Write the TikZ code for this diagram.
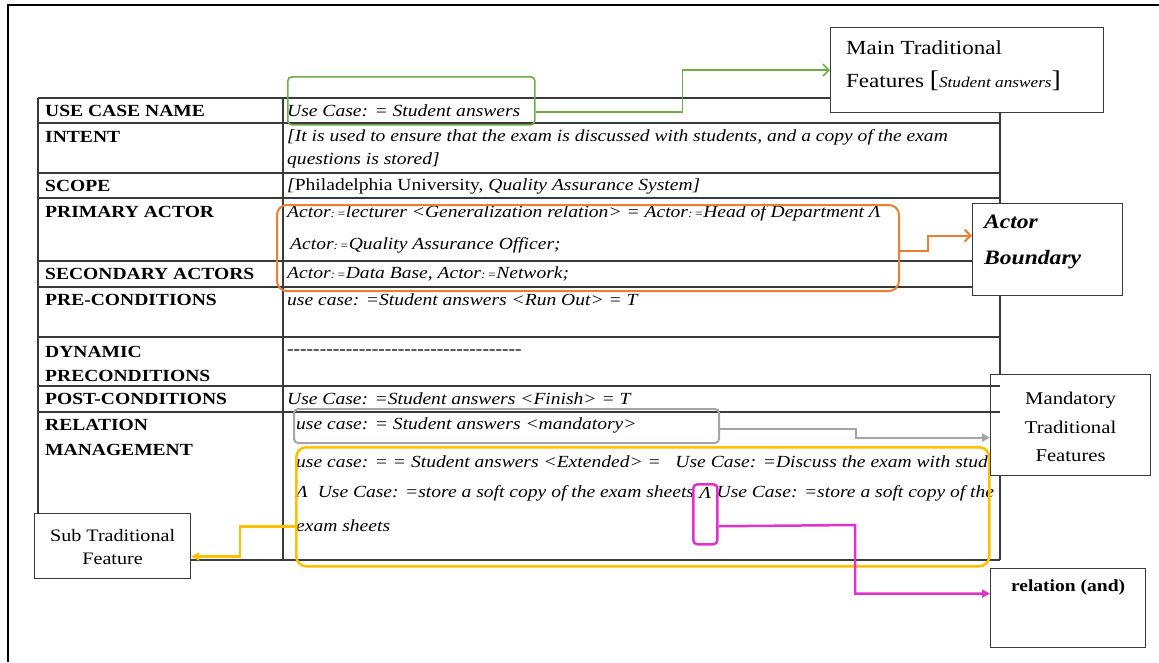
\documentclass[tikz,border=0pt]{standalone}
\usepackage{fontspec}
\setmainfont{Liberation Serif}[FakeStretch=1.15]
\usetikzlibrary{arrows.meta}

\definecolor{tline}{HTML}{3A3A3A}
\definecolor{hgreen}{HTML}{70AD47}
\definecolor{horange}{HTML}{ED7D31}
\definecolor{hgray}{HTML}{A5A5A5}
\definecolor{hyellow}{HTML}{FFC000}
\definecolor{hmagenta}{HTML}{E033CC}

\begin{document}
\begin{tikzpicture}[x=1pt,y=-1pt,
  tl/.style={line width=1.2pt, draw=tline},
  lbl/.style={anchor=west, inner sep=0pt, font=\fontsize{17}{20}\selectfont\bfseries},
  val/.style={anchor=west, inner sep=0pt, font=\fontsize{17}{20}\selectfont\itshape},
  callout/.style={draw=tline, line width=1.2pt, fill=white, inner sep=0pt, anchor=north west},
  hl/.style={inner sep=0pt, anchor=north west, rounded corners=#1},
  openhead/.style={-{Straight Barb[length=6pt,width=12pt]}},
  fillhead/.style={-{Triangle[length=8pt,width=8pt]}},
]
\useasboundingbox (0,0) rectangle (1159,662);
\fill[white] (0,0) rectangle (1159,662);

% page frame
\draw[line width=2.5pt] (8,662) -- (8,5) -- (1159,5);

% table grid
\foreach \y in {98,123,173,198,261,287,337,386,412,560}
  \draw[tl] (38,\y) -- (1000,\y);
\draw[tl] (38,98) -- (38,560);
\draw[tl] (283,98) -- (283,560);
\draw[tl] (1000,98) -- (1000,560);

% left column
\node[lbl] (k1) at (45,111) {USE CASE NAME};
\node[lbl] (k2) at (45,137) {INTENT};
\node[lbl] (k3) at (45,186) {SCOPE};
\node[lbl] (k4) at (45,212) {PRIMARY ACTOR};
\node[lbl] (k5) at (45,274) {SECONDARY ACTORS};
\node[lbl] (k6) at (45,300) {PRE-CONDITIONS};
\node[lbl] (k7) at (45,352) {DYNAMIC};
\node[lbl] (k7b) at (45,376) {PRECONDITIONS};
\node[lbl] (k8) at (45,399) {POST-CONDITIONS};
\node[lbl] (k9) at (45,425) {RELATION};
\node[lbl] (k9b) at (45,450) {MANAGEMENT};

% right column
\newcommand\ac{Actor{\fontsize{11.5}{11.5}\selectfont:\,=}}
\node[val] (v1) at (287,111) {Use Case: = Student answers};
\node[val] (v2) at (287,137) {[It is used to ensure that the exam is discussed with students, and a copy of the exam};
\node[val] (v2b) at (287,160) {questions is stored]};
\node[val] (v3) at (287,186) {[\upshape Philadelphia University, \itshape Quality Assurance System]};
\node[val] (v4) at (287,213) {\ac lecturer <Generalization relation> = \ac Head of Department Λ};
\node[val] (v4b) at (290,245) {\ac Quality Assurance Officer;};
\node[val] (v5) at (287,274) {\ac Data Base, \ac Network;};
\node[val] (v6) at (287,300) {use case: =Student answers <Run Out> = T};
\node[val,font=\fontsize{17}{20}\selectfont] (v7) at (287,352) {-{}-{}-{}-{}-{}-{}-{}-{}-{}-{}-{}-{}-{}-{}-{}-{}-{}-{}-{}-{}-{}-{}-{}-{}-{}-{}-{}-{}-{}-{}-{}-{}-{}-{}-{}-{}};
\node[val] (v8) at (287,399) {Use Case: =Student answers <Finish> = T};
\node[val] (v9) at (296,425) {use case: = Student answers <mandatory>};
\node[val] (v10) at (296,462) {use case: = = Student answers <Extended> = \ \ Use Case: =Discuss the exam with student};
\node[val] (v11a) at (296,493) {Λ \ Use Case: =store a soft copy of the exam sheets};
\node[val, anchor=west] (lam) at ([xshift=5pt]v11a.east) {Λ};
\node[val, anchor=west] (v11c) at ([xshift=5pt]lam.east) {Use Case: =store a soft copy of the};
\node[val] (v12) at (296,526) {exam sheets};

% highlight frames
\node[hl=4, draw=hgreen, line width=1.6pt, minimum width=247, minimum height=48] (gbox) at (287,76) {};
\node[hl=10, draw=horange, line width=2pt, minimum width=622, minimum height=86] (obox) at (276,204) {};
\node[hl=4, draw=hgray, line width=2pt, minimum width=425, minimum height=34] (graybox) at (293,408) {};
\node[hl=10, draw=hyellow, line width=2.5pt, minimum width=693, minimum height=119] (ybox) at (295,446) {};
\node[inner sep=0pt, anchor=north, rounded corners=4, draw=hmagenta, line width=2.5pt, minimum width=24, minimum height=60] (mbox) at (lam.center |- 0,483) {};

% callout boxes
\node[callout, minimum width=273, minimum height=85] (mainbox) at (830,27) {};
\node[anchor=north west, inner sep=0pt, align=left, font=\fontsize{20}{33}\selectfont] (maintext) at (846,40)
  {Main Traditional\\Features {\fontsize{24}{24}\selectfont[}{\itshape\fontsize{15}{15}\selectfont Student answers}{\fontsize{24}{24}\selectfont]}};

\node[callout, minimum width=150, minimum height=92] (abox) at (972,203) {};
\node[anchor=north west, inner sep=0pt, align=left, font=\fontsize{20.5}{36}\selectfont\bfseries\itshape] (atext) at (984,215)
  {Actor\\Boundary};

\node[callout, minimum width=160, minimum height=101] (mandbox) at (990,374) {};
\node[anchor=center, inner sep=0pt, align=center, font=\fontsize{18}{28.5}\selectfont] (mandtext) at ([yshift=-2pt]mandbox.center)
  {Mandatory\\Traditional\\Features};
% the two row rules run on across the left edge of this box
\draw[tl] (mandbox.west |- 0,386) -- (1000,386);
\draw[tl] (mandbox.west |- 0,412) -- (1000,412);

\node[callout, minimum width=156, minimum height=65] (subbox) at (34,513) {};
\node[anchor=center, inner sep=0pt, align=center, font=\fontsize{17.5}{23}\selectfont] (subtext) at ([yshift=-1pt]subbox.center)
  {Sub Traditional\\Feature};

\node[callout, minimum width=155, minimum height=79] (relbox) at (990,568) {};
\node[anchor=north, inner sep=0pt, font=\fontsize{17}{20}\selectfont\bfseries] (reltext) at ([yshift=-11pt]relbox.north)
  {relation (and)};

% connectors
\draw[hgreen, line width=1.6pt, openhead] ([yshift=-11pt]gbox.east) -- ++(147,0) |- (mainbox.west);
\draw[horange, line width=2pt, openhead] ([yshift=-3pt]obox.east) -- ++(28,0) |- ([yshift=14pt]abox.west);
\draw[hgray, line width=2pt, fillhead] ([yshift=-3pt]graybox.east) -- ++(136,0) |- ([yshift=-12.5pt]mandbox.west);
\draw[hyellow, line width=2.5pt, fillhead] ([yshift=-19.5pt]ybox.west) -- ++(-55,0) |- ([yshift=-10.5pt]subbox.east);
\draw[hmagenta, line width=2.5pt, fillhead] ([yshift=-12pt]mbox.east) -- (855,525) |- ([yshift=14.5pt]relbox.west);
\end{tikzpicture}
\end{document}
